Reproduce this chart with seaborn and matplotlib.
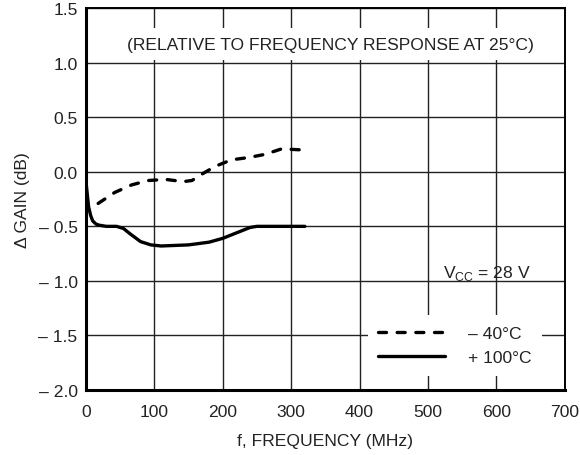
import matplotlib
matplotlib.use("Agg")
import matplotlib.pyplot as plt
import seaborn as sns
import pandas as pd

# +100°C curve (solid)
hot_freq = [0, 2, 4, 7, 10, 15, 20, 30, 45, 55, 65, 80, 95, 110, 150, 180, 200, 220, 240, 250, 320]
hot_gain = [-0.08, -0.2, -0.32, -0.40, -0.45, -0.48, -0.49, -0.5, -0.5, -0.52, -0.57, -0.64, -0.67, -0.68,
            -0.67, -0.645, -0.61, -0.56, -0.51, -0.5, -0.5]

# -40°C curve (dashed)
cold_freq = [18, 42, 67, 91, 117, 142, 155, 170, 189, 213, 237, 262, 286, 318]
cold_gain = [-0.29, -0.19, -0.12, -0.08, -0.07, -0.09, -0.08, -0.02, 0.05, 0.11, 0.13, 0.16, 0.21, 0.20]

y_ticks = [1.5, 1.0, 0.5, 0.0, -0.5, -1.0, -1.5, -2.0]
y_labels = ["1.5", "1.0", "0.5", "0.0", "– 0.5", "– 1.0", "– 1.5", "– 2.0"]
x_ticks = [0, 100, 200, 300, 400, 500, 600, 700]

FS = 12.6

sns.set_style("white")
plt.rcParams['font.family'] = ['Liberation Sans', 'DejaVu Sans']
plt.rcParams['mathtext.fontset'] = 'custom'
plt.rcParams['mathtext.rm'] = 'Liberation Sans'

fig, ax = plt.subplots(figsize=(5.8, 4.56), dpi=100)
fig.subplots_adjust(left=0.148, right=0.974, top=0.980, bottom=0.1425)

hot = pd.DataFrame({"f": hot_freq, "g": hot_gain})
cold = pd.DataFrame({"f": cold_freq, "g": cold_gain})

sns.lineplot(data=cold, x="f", y="g", ax=ax, color="black", lw=2.4,
             dashes=False, label="– 40°C", zorder=3)
ax.lines[-1].set_dashes([2.4, 3.2])
ax.lines[-1].set_dash_capstyle("round")
sns.lineplot(data=hot, x="f", y="g", ax=ax, color="black", lw=2.4,
             label="+ 100°C", zorder=3)

ax.set_xlim(0, 700)
ax.set_ylim(-2.0, 1.5)
ax.set_xticks(x_ticks)
ax.set_yticks(y_ticks)
ax.set_yticklabels(y_labels)
ax.tick_params(length=0, labelsize=FS, colors="#222222")
ax.tick_params(axis="x", pad=10)
ax.tick_params(axis="y", pad=6)
ax.grid(True, color="#222222", lw=1.0)
ax.set_axisbelow(True)

for side in ["left", "bottom"]:
    ax.spines[side].set_linewidth(2.2)
for side in ["top", "right"]:
    ax.spines[side].set_linewidth(1.4)
for s in ax.spines.values():
    s.set_color("black")

ax.set_xlabel("f, FREQUENCY (MHz)", fontsize=FS, color="#222222", labelpad=10)
ax.set_ylabel("Δ GAIN (dB)", fontsize=FS, color="#222222", labelpad=6)

ax.text(358, 1.17, "(RELATIVE TO FREQUENCY RESPONSE AT 25°C)", ha="center", va="center",
        fontsize=FS, color="#222222",
        bbox=dict(facecolor="white", edgecolor="none", pad=6))
ax.text(522, -0.92, r"V$_{\mathregular{CC}}$ = 28 V", ha="left", va="center",
        fontsize=FS, color="#222222")

leg = ax.legend(loc="lower right", bbox_to_anchor=(0.97, 0.015), frameon=True,
                fontsize=FS, handlelength=3.8, handletextpad=1.3, labelspacing=0.5,
                borderpad=0.6, fancybox=False)
leg.get_frame().set_facecolor("white")
leg.get_frame().set_edgecolor("none")
leg.get_frame().set_alpha(1)
for t in leg.get_texts():
    t.set_color("#222222")

plt.savefig("out.png", dpi=100)
